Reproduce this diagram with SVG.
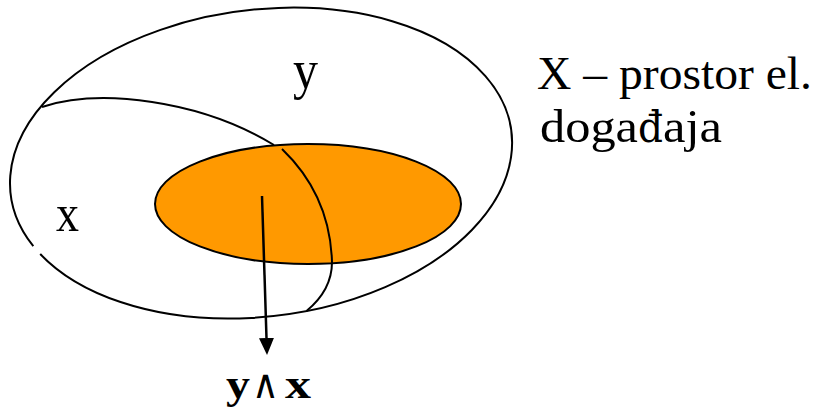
<svg xmlns="http://www.w3.org/2000/svg" width="816" height="409" viewBox="0 0 816 409">
<style>
.ln{fill:none;stroke:#000;stroke-width:2}
.t{font-family:"Liberation Serif","Times New Roman",serif;fill:#000}
.sym{font-family:"DejaVu Serif",serif;fill:#000}
.b{font-weight:bold}
</style>
<defs>
<marker id="ah" viewBox="0 0 17 15" refX="0" refY="7.5" markerWidth="17" markerHeight="15" markerUnits="userSpaceOnUse" orient="auto">
<path d="M0,0 L17,7.5 L0,15 z" fill="#000"/>
</marker>
</defs>
<rect width="816" height="409" fill="#fff"/>
<g id="space-X">
<path class="ln" d="M 33.3 246.1 A 252.3 153.4 -7.25 1 1 40.2 254.0"/>
</g>
<g id="event-xy">
<ellipse cx="308" cy="204" rx="153" ry="60" fill="#FF9900" stroke="#000" stroke-width="2"/>
</g>
<g id="connectors">
<path class="ln" d="M 42 107 C 100 88, 200 100, 274 145"/>
<path class="ln" d="M 282 149 Q 330 195 332 262 Q 332 290 306.5 311"/>
<line x1="262" y1="196" x2="266.5" y2="338" stroke="#000" stroke-width="2.5" marker-end="url(#ah)"/>
</g>
<g id="labels">
<text class="t" x="293" y="88" font-size="54" textLength="25" lengthAdjust="spacingAndGlyphs">y</text>
<text class="t" x="56" y="231" font-size="52" textLength="23" lengthAdjust="spacingAndGlyphs">x</text>
<text class="t" x="537" y="89" font-size="47" textLength="275" lengthAdjust="spacingAndGlyphs">X – prostor el.</text>
<text class="t" x="540" y="142" font-size="46" textLength="98" lengthAdjust="spacingAndGlyphs">doga</text>
<text class="sym" x="638" y="142" font-size="42" textLength="25" lengthAdjust="spacingAndGlyphs">đ</text>
<text class="t" x="663" y="142" font-size="46" textLength="59" lengthAdjust="spacingAndGlyphs">aja</text>
<text class="t b" x="226" y="398" font-size="42" textLength="24" lengthAdjust="spacingAndGlyphs">y</text>
<text class="sym" x="252" y="398" font-size="40" textLength="27" lengthAdjust="spacingAndGlyphs">∧</text>
<text class="t b" x="285" y="398" font-size="42" textLength="26" lengthAdjust="spacingAndGlyphs">x</text>
</g>
</svg>
